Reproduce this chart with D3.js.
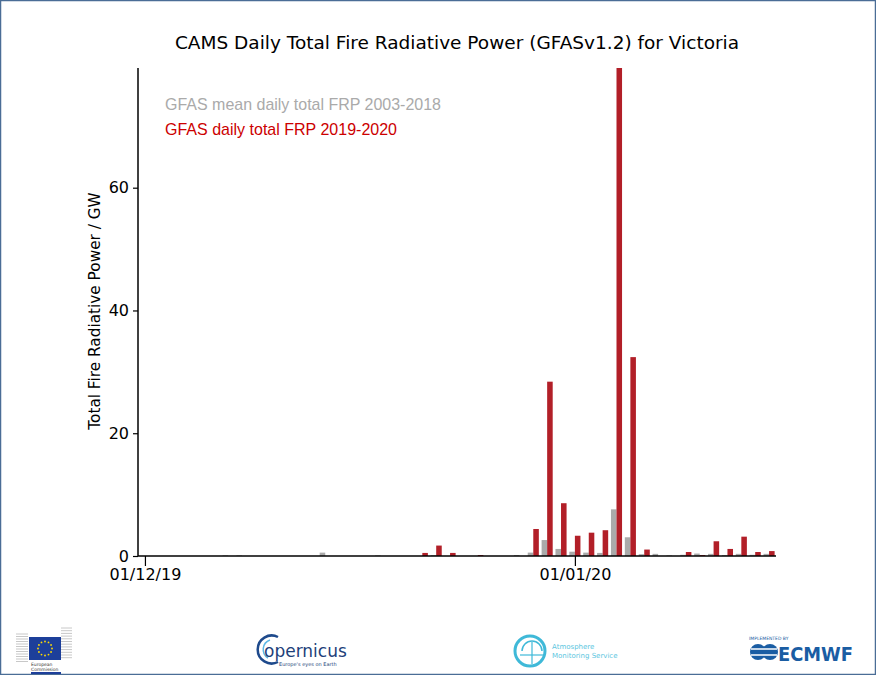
<!DOCTYPE html>
<html>
<head>
<meta charset="utf-8">
<script src="https://cdn.jsdelivr.net/npm/d3@7"></script>
<style>
body{margin:0;background:#fff;}
svg{display:block;}
</style>
</head>
<body>
<svg id="chart" width="876" height="675"></svg>
<script>
// Days from 01/12/19 to 15/01/20
const dayLabels = ["01/12/19","02/12/19","03/12/19","04/12/19","05/12/19","06/12/19","07/12/19","08/12/19","09/12/19","10/12/19",
"11/12/19","12/12/19","13/12/19","14/12/19","15/12/19","16/12/19","17/12/19","18/12/19","19/12/19","20/12/19",
"21/12/19","22/12/19","23/12/19","24/12/19","25/12/19","26/12/19","27/12/19","28/12/19","29/12/19","30/12/19","31/12/19",
"01/01/20","02/01/20","03/01/20","04/01/20","05/01/20","06/01/20","07/01/20","08/01/20","09/01/20","10/01/20",
"11/01/20","12/01/20","13/01/20","14/01/20","15/01/20"];
const meanFRP = [0,0,0,0,0,0,0.1,0.1,0,0,
0,0,0,0.55,0,0,0,0.1,0,0,
0,0.15,0,0,0,0,0,0.15,0.55,2.6,1.15,
0.7,0.55,0.5,7.6,3.05,0.3,0.35,0.1,0.2,0.4,
0.35,0.15,0.35,0.2,0.35];
const frp1920 = [0,0,0,0,0,0,0,0,0,0,
0,0,0,0,0,0,0,0,0,0,
0.5,1.7,0.5,0,0.15,0,0,0,4.4,28.4,8.6,
3.3,3.8,4.2,79.5,32.4,1.05,0,0,0.65,0.15,
2.4,1.15,3.15,0.65,0.8];
const yTicks = [0,20,40,60];
const xTickDays = ["01/12/19","01/01/20"];

const svg = d3.select("#chart");
const font = "'DejaVu Sans', sans-serif";

// border
svg.append("rect").attr("x",0.5).attr("y",0.5).attr("width",875).attr("height",674)
  .attr("fill","#fff").attr("stroke","#4a6d96").attr("stroke-width",1.5);

const idx = d3.range(dayLabels.length);
const x = d3.scaleLinear().domain([-0.5, dayLabels.length - 0.5]).range([138, 776]);
const y = d3.scaleLinear().domain([0, d3.max(frp1920)]).range([556, 68]);
const bw = 0.4;

// bars
svg.append("g").selectAll("rect").data(idx).join("rect")
  .attr("x", d => x(d - bw)).attr("width", d => x(d) - x(d - bw))
  .attr("y", d => y(meanFRP[d])).attr("height", d => y(0) - y(meanFRP[d]))
  .attr("fill", "#aaaaaa");
svg.append("g").selectAll("rect").data(idx).join("rect")
  .attr("x", d => x(d)).attr("width", d => x(d + bw) - x(d))
  .attr("y", d => y(frp1920[d])).attr("height", d => y(0) - y(frp1920[d]))
  .attr("fill", "#b21f28");

// axes
const yAxis = d3.axisLeft(y).tickValues(yTicks).tickSize(5).tickPadding(4).tickFormat(d3.format("d"));
const gy = svg.append("g").attr("transform","translate(138,0)").call(yAxis);
gy.select(".domain").attr("d", `M0,${y.range()[1]}V${y(0)}`).attr("stroke","#000").attr("stroke-width",1.5);
gy.selectAll(".tick line").attr("stroke","#000").attr("stroke-width",1.2);
gy.selectAll("text").attr("font-family",font).attr("font-size",16).attr("fill","#000");

const xAxis = d3.axisBottom(x).tickValues(xTickDays.map(s => dayLabels.indexOf(s)))
  .tickFormat(d => dayLabels[d]).tickSize(10).tickPadding(3);
const gx = svg.append("g").attr("transform",`translate(0,${y(0)})`).call(xAxis);
gx.select(".domain").attr("d", `M${x.range()[0]},0H${x.range()[1]}`).attr("stroke","#000").attr("stroke-width",1.5);
gx.selectAll(".tick line").attr("stroke","#000").attr("stroke-width",1.2);
gx.selectAll("text").attr("font-family",font).attr("font-size",16).attr("fill","#000");

// title
svg.append("text").attr("x",457).attr("y",49).attr("text-anchor","middle")
  .attr("font-family",font).attr("font-size",18.5).attr("fill","#000")
  .text("CAMS Daily Total Fire Radiative Power (GFASv1.2) for Victoria");

// y label
svg.append("text").attr("transform","translate(100,311) rotate(-90)").attr("text-anchor","middle")
  .attr("font-family",font).attr("font-size",15.3).attr("fill","#000")
  .text("Total Fire Radiative Power / GW");

// legend
const nf = "'Liberation Sans Narrow','Arial Narrow','Liberation Sans',sans-serif";
svg.append("text").attr("x",165).attr("y",110).attr("font-family",nf).attr("font-size",17)
  .attr("fill","#aaaaaa").attr("textLength",276).attr("lengthAdjust","spacingAndGlyphs")
  .text("GFAS mean daily total FRP 2003-2018");
svg.append("text").attr("x",165).attr("y",135).attr("font-family",nf).attr("font-size",17)
  .attr("fill","#cc0000").attr("textLength",232).attr("lengthAdjust","spacingAndGlyphs")
  .text("GFAS daily total FRP 2019-2020");

// ---- footer logos ----
const f = svg.append("g");
// European Commission
const ec = f.append("g");
[0,1,2,3,4,5,6,7,8,9,10,11].forEach(i=>{
  ec.append("line").attr("x1",16).attr("x2",28).attr("y1",634+i*2.5).attr("y2",634+i*2.5).attr("stroke","#c8c8c8").attr("stroke-width",1);
  ec.append("line").attr("x1",61).attr("x2",72).attr("y1",628+i*2.7).attr("y2",628+i*2.7).attr("stroke","#c8c8c8").attr("stroke-width",1);
});
ec.append("rect").attr("x",29).attr("y",637).attr("width",32).attr("height",23).attr("fill","#1d3f9a");
d3.range(12).forEach(i=>{
  const a = i*Math.PI/6;
  ec.append("circle").attr("cx",45+7*Math.cos(a)).attr("cy",648.5+7*Math.sin(a)).attr("r",0.9).attr("fill","#ffdd00");
});
ec.append("text").attr("x",31).attr("y",666).attr("font-family",font).attr("font-size",4.5).attr("fill","#333").text("European");
ec.append("text").attr("x",31).attr("y",671).attr("font-family",font).attr("font-size",4.5).attr("fill","#333").text("Commission");
ec.append("rect").attr("x",31).attr("y",672).attr("width",30).attr("height",2).attr("fill","#1d3f9a");

// Copernicus
const cp = f.append("g");
cp.append("path").attr("d","M278,637 A14,14 0 1 0 278,662").attr("fill","none").attr("stroke","#1e4a8c").attr("stroke-width",2.5);
cp.append("path").attr("d","M270,640 A10,10 0 0 0 268,658").attr("fill","none").attr("stroke","#5cb8e6").attr("stroke-width",1.5);
cp.append("text").attr("x",264).attr("y",657).attr("font-family",font).attr("font-size",17).attr("fill","#1e3f7a").text("opernicus");
cp.append("text").attr("x",279).attr("y",666).attr("font-family",font).attr("font-size",5).attr("fill","#1e3f7a").text("Europe's eyes on Earth");

// Atmosphere Monitoring Service
const am = f.append("g");
am.append("circle").attr("cx",530).attr("cy",651).attr("r",15).attr("fill","none").attr("stroke","#3fb9d8").attr("stroke-width",3);
am.append("path").attr("d","M522,651 A10,10 0 0 1 542,651").attr("fill","none").attr("stroke","#3fb9d8").attr("stroke-width",1.5);
am.append("line").attr("x1",520).attr("x2",544).attr("y1",655).attr("y2",655).attr("stroke","#3fb9d8").attr("stroke-width",1.2);
am.append("line").attr("x1",532).attr("x2",532).attr("y1",642).attr("y2",664).attr("stroke","#3fb9d8").attr("stroke-width",1.2);
am.append("text").attr("x",552).attr("y",649).attr("font-family",font).attr("font-size",7).attr("fill","#5cc6e0").text("Atmosphere");
am.append("text").attr("x",552).attr("y",658).attr("font-family",font).attr("font-size",7).attr("fill","#5cc6e0").text("Monitoring Service");

// ECMWF
const em = f.append("g");
em.append("text").attr("x",749).attr("y",640).attr("font-family",font).attr("font-size",4.5).attr("fill","#1a5da3").text("IMPLEMENTED BY");
em.append("circle").attr("cx",758).attr("cy",652).attr("r",8).attr("fill","#1a5da3");
em.append("circle").attr("cx",770).attr("cy",652).attr("r",8).attr("fill","#1a5da3");
em.append("line").attr("x1",751).attr("x2",777).attr("y1",649).attr("y2",649).attr("stroke","#fff").attr("stroke-width",1.5);
em.append("line").attr("x1",751).attr("x2",777).attr("y1",655).attr("y2",655).attr("stroke","#fff").attr("stroke-width",1.5);
em.append("text").attr("x",778).attr("y",661).attr("font-family",font).attr("font-weight","bold").attr("font-size",19)
  .attr("fill","#1a5da3").attr("textLength",75).attr("lengthAdjust","spacingAndGlyphs").text("ECMWF");
</script>
</body>
</html>
